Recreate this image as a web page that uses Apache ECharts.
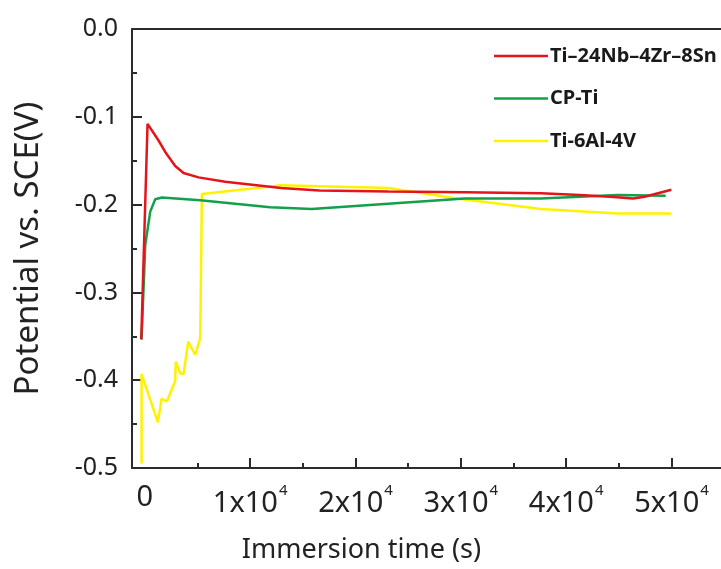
<!DOCTYPE html>
<html>
<head>
  <meta charset="utf-8">
  <title>OCP</title>
  <script src="https://cdn.jsdelivr.net/npm/echarts/dist/echarts.min.js"></script>
  <style>
    html, body { margin: 0; padding: 0; background: #fff; }
    #main { width: 721px; height: 569px; }
  </style>
</head>
<body>
<div id="main"></div>
<script>
  const seriesNames = ['Ti\u201324Nb\u20134Zr\u20138Sn', 'CP-Ti', 'Ti-6Al-4V'];
  const seriesColors = ['#e3151b', '#12a04b', '#fff200'];

  // Ti-24Nb-4Zr-8Sn
  const timeA = [-340, 256, 1300, 1935, 2884, 3672, 5095, 7628, 12932, 16546, 23093, 30370, 37609, 41271, 44156, 46338, 47448, 49990];
  const potA = [-0.353, -0.108, -0.127, -0.140, -0.156, -0.164, -0.169, -0.174, -0.181, -0.184, -0.185, -0.186, -0.187, -0.189, -0.191, -0.193, -0.191, -0.183];

  // CP-Ti
  const timeB = [-313, 38, 512, 987, 1622, 5256, 11898, 15835, 23093, 30370, 37609, 44905, 49450];
  const potB = [-0.354, -0.246, -0.208, -0.194, -0.192, -0.195, -0.203, -0.205, -0.199, -0.193, -0.193, -0.189, -0.190];

  // Ti-6Al-4V
  const timeC = [-313, -313, 1243, 1584, 2097, 2884, 2932, 3359, 3672, 4118, 4782, 5256, 5417, 5588, 12932, 16640, 23093, 29640, 37610, 44905, 49990];
  const potC = [-0.495, -0.393, -0.448, -0.421, -0.424, -0.401, -0.379, -0.392, -0.393, -0.356, -0.371, -0.352, -0.188, -0.186, -0.178, -0.179, -0.181, -0.193, -0.205, -0.210, -0.210];

  const xMajorTicks = [10000, 20000, 30000, 40000, 50000];
  const xMinorTicks = [5000, 15000, 25000, 35000, 45000];
  const xLabels = [0, 10000, 20000, 30000, 40000, 50000];

  const zip = (xs, ys) => xs.map((x, i) => [x, ys[i]]);
  const seriesData = [zip(timeA, potA), zip(timeB, potB), zip(timeC, potC)];

  const axisColor = '#2b2b2b';
  const font = 'Noto Sans';

  const myChart = echarts.init(document.getElementById('main'));

  const option = {
    animation: false,
    grid: { left: 132, right: 0, top: 29, bottom: 98 },
    legend: {
      orient: 'vertical',
      left: 489,
      top: 40,
      icon: 'rect',
      itemWidth: 54,
      itemHeight: 2.5,
      itemGap: 20.5,
      textStyle: { fontFamily: font, fontSize: 20, fontWeight: 'bold', color: '#1a1a1a', lineHeight: 22, padding: [0, 0, 0, -3] },
      data: seriesNames
    },
    xAxis: [
      {
        type: 'value',
        min: -1220,
        max: 54700,
        position: 'bottom',
        name: 'Immersion time (s)',
        nameLocation: 'middle',
        nameGap: 69,
        nameTextStyle: { fontFamily: font, fontSize: 27, color: '#222', padding: [0, 130, 0, 0] },
        axisLine: { onZero: false, lineStyle: { color: axisColor, width: 2 } },
        axisTick: { inside: true, length: 10, lineStyle: { color: axisColor, width: 2 }, customValues: xMajorTicks },
        axisLabel: {
          customValues: xLabels,
          margin: 15,
          fontFamily: font,
          fontSize: 29,
          color: '#222',
          formatter: v => v === 0 ? '0' : '{a|' + (v / 10000) + 'x10}{b|4}',
          rich: {
            a: { fontFamily: font, fontSize: 29, color: '#222', lineHeight: 42 },
            b: { fontFamily: font, fontSize: 15, color: '#222', verticalAlign: 'top', lineHeight: 34, padding: [0, 0, 0, 1] }
          }
        },
        splitLine: { show: false }
      },
      {
        type: 'value',
        min: -1220,
        max: 54700,
        position: 'bottom',
        axisLine: { show: false, onZero: false },
        axisTick: { inside: true, length: 5, lineStyle: { color: axisColor, width: 2 }, customValues: xMinorTicks },
        axisLabel: { show: false },
        splitLine: { show: false }
      },
      {
        type: 'value',
        min: -1220,
        max: 54700,
        position: 'top',
        axisLine: { onZero: false, lineStyle: { color: axisColor, width: 2 } },
        axisTick: { show: false },
        axisLabel: { show: false },
        splitLine: { show: false }
      }
    ],
    yAxis: {
      type: 'value',
      min: -0.5,
      max: 0,
      interval: 0.1,
      name: 'Potential vs. SCE(V)',
      nameLocation: 'middle',
      nameGap: 87,
      nameTextStyle: { fontFamily: font, fontSize: 33, color: '#222' },
      axisLine: { show: true, onZero: false, lineStyle: { color: axisColor, width: 2 } },
      axisTick: { inside: true, length: 10, lineStyle: { color: axisColor, width: 2 } },
      minorTick: { show: true, splitNumber: 2, length: 5, lineStyle: { color: axisColor, width: 2 } },
      axisLabel: {
        margin: 14,
        fontFamily: font,
        fontSize: 25,
        color: '#222',
        formatter: v => v.toFixed(1)
      },
      splitLine: { show: false }
    },
    series: seriesNames.map((name, i) => ({
      name: name,
      type: 'line',
      xAxisIndex: 0,
      showSymbol: false,
      symbol: 'none',
      z: 3 - i,
      lineStyle: { color: seriesColors[i], width: 2.5 },
      itemStyle: { color: seriesColors[i] },
      data: seriesData[i]
    }))
  };

  myChart.setOption(option);
</script>
</body>
</html>
